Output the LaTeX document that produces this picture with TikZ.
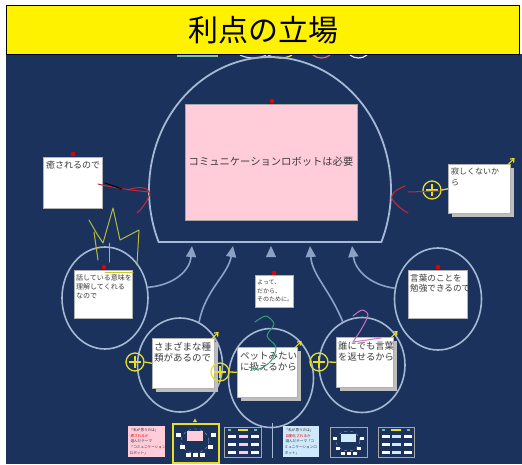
\documentclass[tikz,border=0pt]{standalone}
\usepackage{fontspec}
\newfontfamily\jp{Noto Sans CJK JP}
\usetikzlibrary{shapes.geometric,arrows.meta}
\definecolor{navy}{RGB}{27,50,93}
\definecolor{domec}{RGB}{165,185,212}
\definecolor{connc}{RGB}{140,162,196}
\definecolor{ylw}{RGB}{232,222,40}
\definecolor{pinkbox}{RGB}{255,204,218}
\definecolor{bluebox}{RGB}{205,233,251}
\definecolor{txt}{RGB}{60,60,60}
\definecolor{redmark}{RGB}{205,40,55}
\definecolor{shadowc}{RGB}{190,190,190}
\definecolor{crownc}{RGB}{185,185,60}
\definecolor{greenc}{RGB}{46,160,120}
\definecolor{pinkc}{RGB}{210,110,200}
\begin{document}
\begin{tikzpicture}[x=1pt,y=-1pt,
  ring/.style={ellipse, draw=domec, line width=1.6pt, inner sep=0pt},
  card/.style={draw=gray!60, fill=white, line width=0.6pt, inner sep=0pt, anchor=north west},
  cardtext/.style={anchor=north west, inner sep=0pt, align=left, text=txt},
  conn/.style={draw=connc, line width=1.6pt, -{Triangle[width=10pt,length=11pt]}},
  pluscirc/.style={circle, draw=ylw, line width=1.3pt, minimum size=18pt, inner sep=0pt},
  ylink/.style={draw=ylw, line width=1.3pt},
  yarrow/.style={draw=ylw, line width=1.2pt, -{Straight Barb[length=3pt,width=5pt]}},
  pinmark/.style={fill=red!90!black},
  thumb/.style={draw=gray!70, fill=navy, line width=0.6pt, inner sep=0pt, anchor=north west, minimum width=37pt, minimum height=30pt},
  mini/.style={fill=white},
  scribble/.style={line width=1pt, line cap=round, line join=round}]
\useasboundingbox (0,0) rectangle (522,464);
\fill[white] (0,0) rectangle (522,464);
\fill[navy] (6,54) rectangle (522,464);
% small marks below the title
\draw[greenc!60!white, line width=2pt] (177,56) -- (218,56);
\draw[cyan!35!white, line width=1.2pt] (240,55) .. controls (248,59) and (259,59) .. (266,55);
\draw[ylw!80!white, line width=1.2pt] (268,55) .. controls (276,59) and (285,59) .. (292,55);
\draw[redmark!70!white, line width=1.2pt] (313,55) .. controls (318,59) and (325,59) .. (330,55);
\draw[white!85!gray, line width=1.2pt] (350,55) .. controls (355,59) and (362,59) .. (367,55);
% title
\node[draw=black, line width=1.3pt, fill=yellow, minimum width=513pt, minimum height=49pt, anchor=north west, inner sep=0pt, font=\jp\fontsize{30}{32}\selectfont] (title) at (6,5) {利点の立場};
% dome
\draw[domec, line width=1.8pt] plot[domain=203:-23, samples=90] ({270+121*cos(\x)},{190-133*sin(\x)}) -- cycle;
\coordinate (d1) at (192,246);
\coordinate (d2) at (233,246);
\coordinate (d3) at (271,246);
\coordinate (d4) at (310,246);
\coordinate (d5) at (352,246);
% rings
\node[ring, minimum width=86pt, minimum height=102pt] (lc) at (105,298) {};
\node[ring, minimum width=87pt, minimum height=102pt] (rc) at (438,299) {};
\node[ring, minimum width=85pt, minimum height=94pt] (c1) at (180,365) {};
\node[ring, minimum width=85pt, minimum height=99pt] (c2) at (271,378) {};
\node[ring, minimum width=86pt, minimum height=95pt] (c3) at (362,365) {};
% connectors to the dome
\draw[conn] (lc.14) .. controls (175,285) and (190,270) .. (d1);
\draw[conn] (c1.66) .. controls (205,290) and (228,275) .. (d2);
\draw[conn, double=navy, double distance=1.2pt, line width=0.8pt] (c2.north) -- (d3);
\draw[conn] (c3.114) .. controls (330,290) and (312,275) .. (d4);
\draw[conn] (rc.166) .. controls (370,285) and (355,270) .. (d5);
% main box
\node[draw=gray!70, fill=pinkbox, line width=0.6pt, minimum width=172pt, minimum height=116pt, inner sep=0pt, text=txt, font=\jp\fontsize{10.3}{12}\selectfont] (main) at (271,162) {コミュニケーションロボットは必要};
% left note
\node[card, minimum width=59pt, minimum height=51pt] (ln) at (43,157) {};
\node[cardtext, font=\jp\fontsize{9}{11}\selectfont] at ([shift={(3,4)}]ln.north west) {癒されるので};
% right note
\fill[shadowc] (452,168) rectangle (514,217);
\node[card, minimum width=62pt, minimum height=49pt] (rn) at (448,164) {};
\node[cardtext, font=\jp\fontsize{8}{11}\selectfont] at ([shift={(3,4)}]rn.north west) {寂しくないか\\ら};
% circle boxes
\node[card, minimum width=58pt, minimum height=48pt] (lcb) at (74,270) {};
\node[cardtext, font=\jp\fontsize{7}{9.3}\selectfont] at ([shift={(2,4)}]lcb.north west) {話している意味を\\理解してくれる\\なので};
\node[card, minimum width=59pt, minimum height=48pt] (rcb) at (408,270) {};
\node[cardtext, font=\jp\fontsize{8.6}{10}\selectfont] at ([shift={(2,4)}]rcb.north west) {言葉のことを\\勉強できるので};
\fill[shadowc] (156,342) rectangle (218,392);
\node[card, minimum width=62pt, minimum height=50pt] (b1) at (152,338) {};
\node[cardtext, font=\jp\fontsize{9.5}{11}\selectfont] at ([shift={(2,4)}]b1.north west) {さまざまな種\\類があるので};
\fill[shadowc] (241,351) rectangle (301,401);
\node[card, minimum width=60pt, minimum height=50pt] (b2) at (237,347) {};
\node[cardtext, font=\jp\fontsize{9.5}{11}\selectfont] at ([shift={(3,5)}]b2.north west) {ペットみたい\\に扱えるから};
\fill[shadowc] (340,341) rectangle (397,391);
\node[card, minimum width=57pt, minimum height=50pt] (b3) at (336,337) {};
\node[cardtext, font=\jp\fontsize{9.3}{11}\selectfont] at ([shift={(2,4)}]b3.north west) {誰にでも言葉\\を返せるから};
% middle note
\node[card, minimum width=38pt, minimum height=32pt] (mid) at (255,275) {};
\node[cardtext, font=\jp\fontsize{6}{8.5}\selectfont] at ([shift={(2,5)}]mid.north west) {よって、\\だから、\\そのために。};
% pins
\fill[pinmark] (272,101) circle (2.3);
\fill[pinmark] (73,154) circle (2.3);
\fill[pinmark] (104,267) circle (2.3);
\fill[pinmark] (438,267) circle (2.3);
\fill[pinmark] (274,273) circle (2.3);
% plus circles and links
\node[pluscirc] (p0) at (432,190) {};
\node[pluscirc] (p1) at (135,362) {};
\node[pluscirc] (p2) at (220,372) {};
\node[pluscirc] (p3) at (319,362) {};
\foreach \p in {p0,p1,p2,p3}{
  \draw[ylink] ([xshift=-6pt]\p.center) -- ([xshift=6pt]\p.center);
  \draw[ylink] ([yshift=-6pt]\p.center) -- ([yshift=6pt]\p.center);
}
\draw[ylink] (p0.east) -- (rn.west);
\draw[ylink] (p1.east) -- (b1.west);
\draw[ylink] (p2.east) -- (b2.west);
\draw[ylink] (p3.east) -- (b3.west);
\draw[yarrow] ([shift={(-3,1)}]rn.north east) -- ++(7,-7);
\draw[yarrow] ([shift={(-3,1)}]b1.north east) -- ++(7,-7);
\draw[yarrow] ([shift={(-3,1)}]b2.north east) -- ++(7,-7);
\draw[yarrow] ([shift={(-3,1)}]b3.north east) -- ++(7,-7);
% scribbles
\draw[scribble, redmark] (98,184) .. controls (115,188) and (130,190) .. (149,192);
\draw[scribble, redmark] (128,190) .. controls (138,186) and (148,187) .. (150,193) .. controls (148,200) and (143,208) .. (137,213);
\draw[scribble, black] (105,183) -- (122,189);
\draw[scribble, redmark] (408,192) -- (440,191);
\draw[scribble, redmark] (405,186) .. controls (395,190) and (390,195) .. (392,199) .. controls (396,205) and (402,210) .. (408,213);
\draw[scribble, crownc] (89,220) -- (97,234) -- (103,243) -- (113,208) -- (120,240) -- (139,230) -- (137,265);
\draw[scribble, crownc] (94,232) -- (98,260);
\draw[scribble, crownc] (109,243) -- (109,262);
\draw[scribble, crownc!80!yellow] (105,272) -- (133,272);
\draw[scribble, greenc] plot[smooth] coordinates {(255,322) (266,316) (274,324) (267,336) (276,347) (271,361) (259,369) (249,367)};
\draw[scribble, pinkc] plot[smooth] coordinates {(353,316) (362,310) (368,315) (362,328) (353,342)} -- (381,338);
% bottom strip
\node[fill=pinkbox, minimum width=37pt, minimum height=31pt, anchor=north west, inner sep=0pt] (th1) at (128,426) {};
\node[cardtext, text=black!80, font=\jp\fontsize{3.6}{5.6}\selectfont] at ([shift={(1.5,2.5)}]th1.north west) {「私が思うのは」\\\ \textcolor{red}{癒されるか}\\\ 選んだテーマ\\「コミュニケーション\\ロボット」};
\fill[ylw] (193,422) -- (197,422) -- (195,418.5) -- cycle;
\node[draw=ylw, line width=1.5pt, fill=navy, minimum width=46pt, minimum height=39pt, anchor=north west, inner sep=0pt] (th2) at (172,423) {};
\draw[domec, dashed, line width=0.3pt] (195,441) ellipse (14 and 12);
\fill[pinkbox] (187,431) rectangle (203,441);
\foreach \a/\b in {176/433,211/433,180/445,208/445,186/453,193/453,200/453}{\fill[mini] (\a,\b) rectangle ++(5,3.5);}
\node[thumb] (th3) at (224,427) {};
\fill[greenc!70!white] (228,429) rectangle ++(3,2);
\fill[greenc!70!white] (254,429) rectangle ++(3,2);
\fill[ylw] (238,429) rectangle ++(10,2);
\foreach \b in {435,443,451}{
  \fill[mini] (228,\b) rectangle ++(8,2.5);
  \fill[pinkbox] (239,\b) rectangle ++(9,2.5);
  \fill[mini] (251,\b) rectangle ++(8,2.5);
}
\draw[domec, line width=1pt] (272,423) -- (272,458);
\node[fill=bluebox, minimum width=36pt, minimum height=31pt, anchor=north west, inner sep=0pt] (th4) at (283,426) {};
\node[cardtext, text=black!80, font=\jp\fontsize{3.6}{5.6}\selectfont] at ([shift={(1.5,2.5)}]th4.north west) {「私が思うのは」\\\ \textcolor{red}{自動化されるか}\\\ 選んだテーマ「コ\\ミュニケーションロ\\ボット」};
\node[thumb] (th5) at (330,427) {};
\draw[domec, dashed, line width=0.3pt] (348,441) ellipse (12 and 10);
\fill[bluebox] (341,434) rectangle (356,442);
\foreach \a/\b in {333/437,360/437,336/447,357/447,341/452,347/452,353/452}{\fill[mini] (\a,\b) rectangle ++(4,3);}
\node[thumb, minimum width=36pt] (th6) at (378,427) {};
\fill[greenc!70!white] (382,429) rectangle ++(3,2);
\fill[greenc!70!white] (407,429) rectangle ++(3,2);
\fill[ylw] (391,429) rectangle ++(10,2);
\foreach \b in {435,443,451}{
  \fill[mini] (382,\b) rectangle ++(8,2.5);
  \fill[bluebox] (392,\b) rectangle ++(9,2.5);
  \fill[mini] (404,\b) rectangle ++(8,2.5);
}
\end{tikzpicture}
\end{document}
